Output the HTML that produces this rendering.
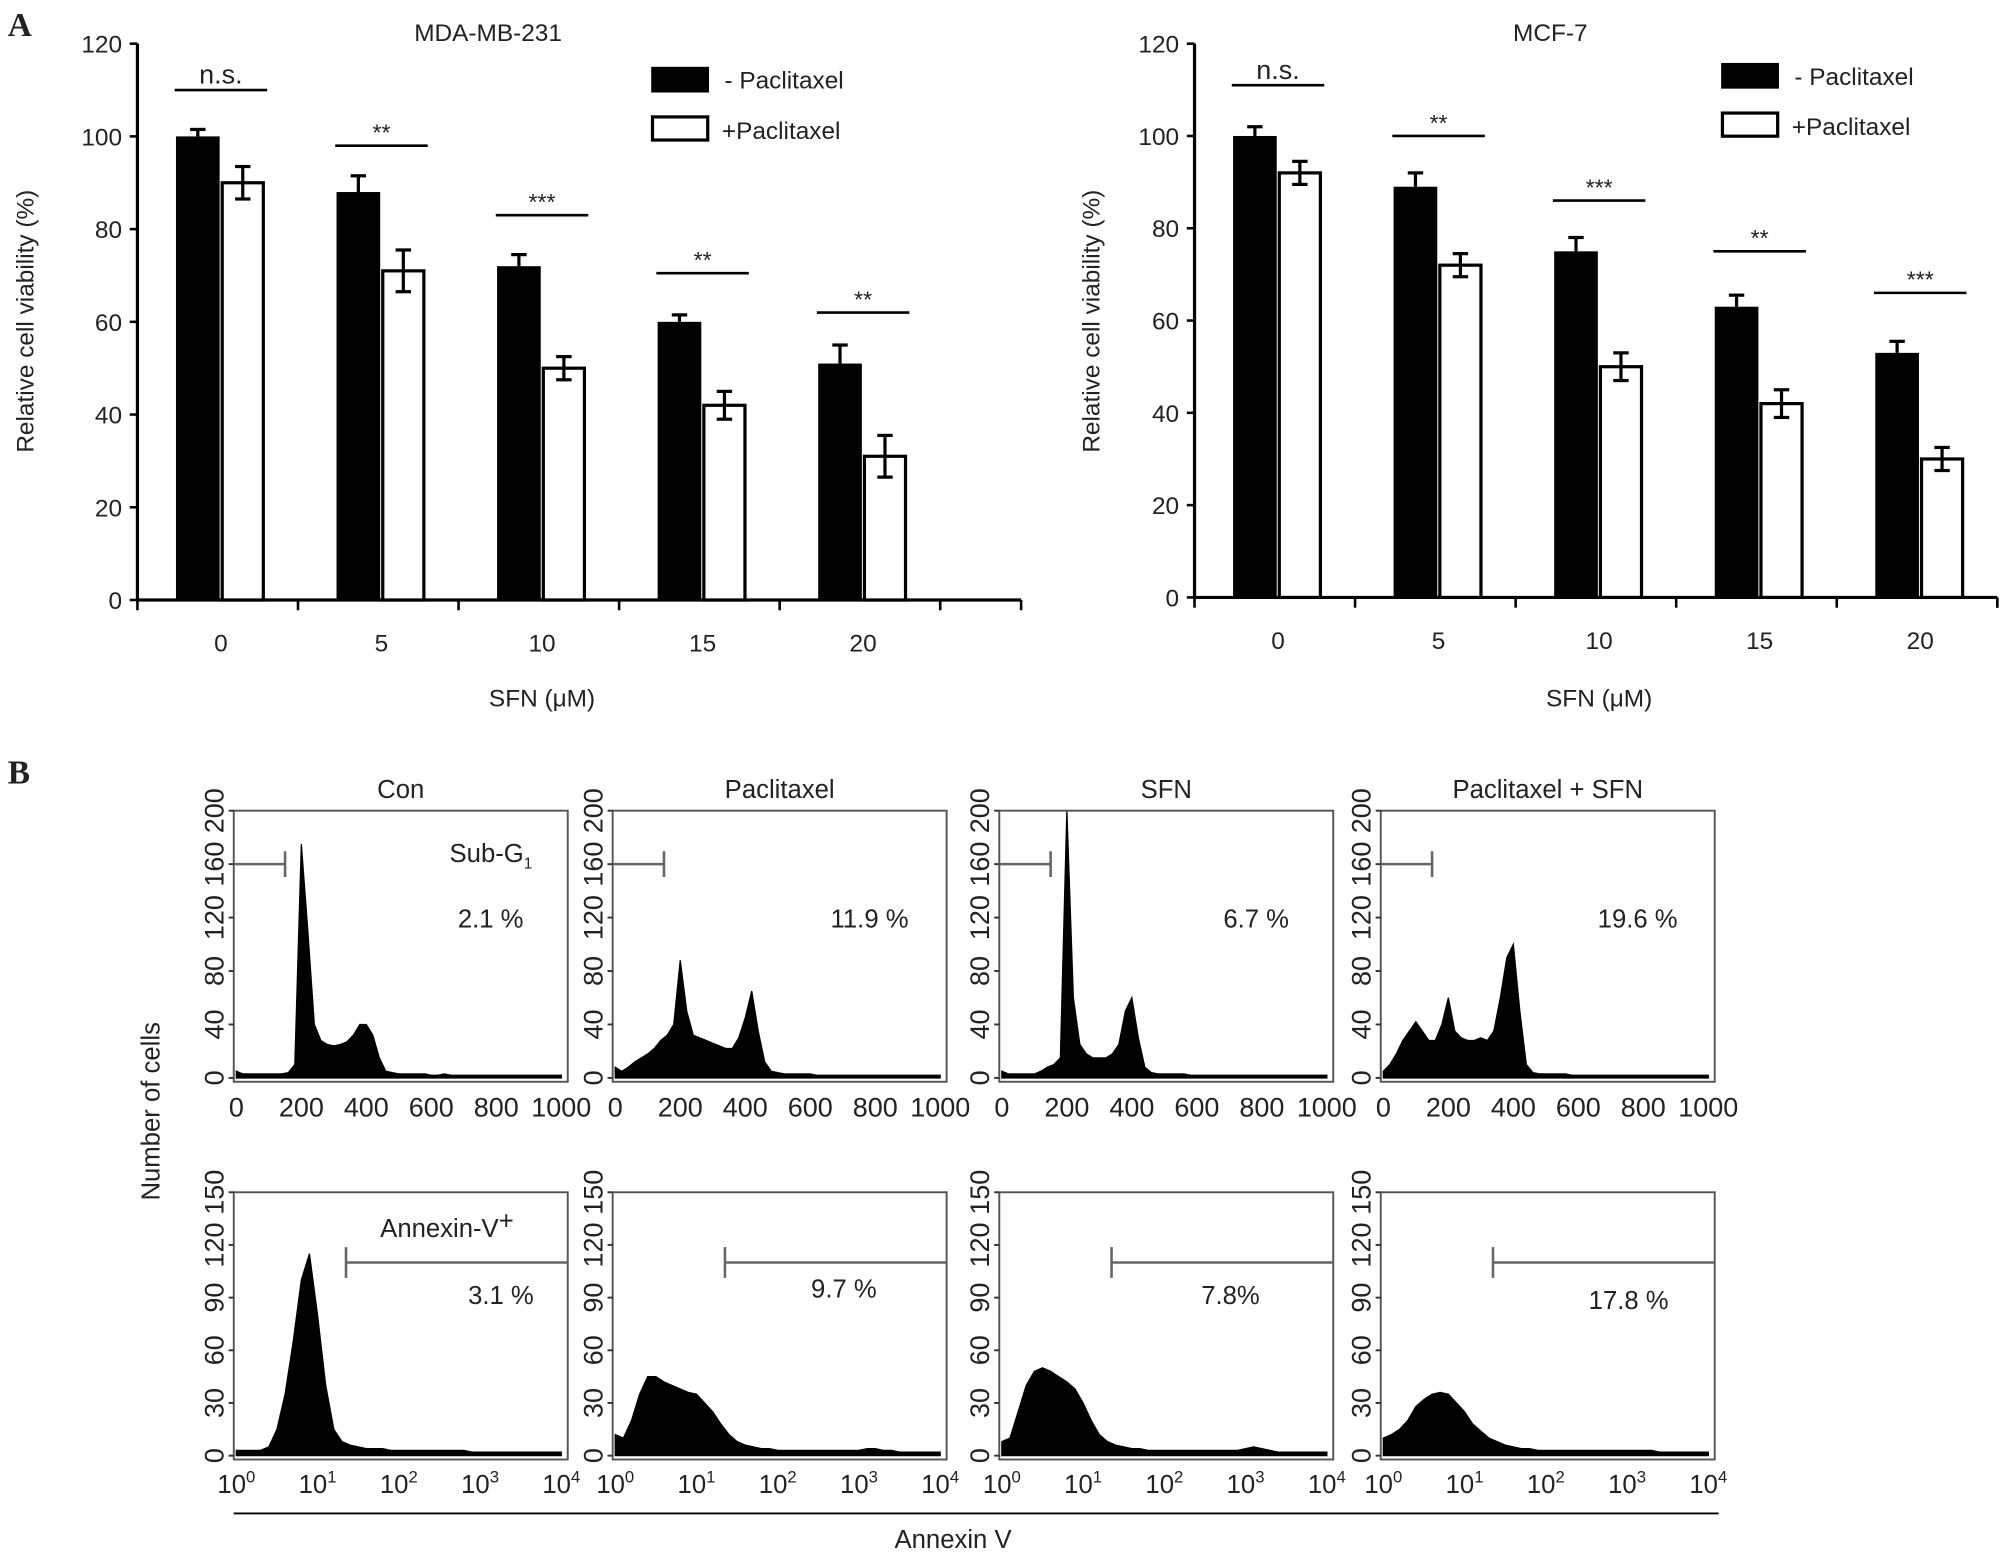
<!DOCTYPE html>
<html><head><meta charset="utf-8"><style>
html,body{margin:0;padding:0;background:#fff}
svg{display:block}
text{font-family:"Liberation Sans",sans-serif;fill:#222}
</style></head><body>
<svg id="fig" width="2014" height="1561" viewBox="0 0 1568 1215" preserveAspectRatio="none">
<text x="6" y="28" style="font-family:'Liberation Serif',serif;font-weight:bold;font-size:26px">A</text>
<text x="6" y="610" style="font-family:'Liberation Serif',serif;font-weight:bold;font-size:26px">B</text>
<g id="charts"></g>
</svg>
<script>
const categories = ["0","5","10","15","20"];
const mdaMinus = [100,88,72,60,51];
const mdaMinusErr = [1.5,3.5,2.5,1.5,4];
const mdaPlus = [90,71,50,42,31];
const mdaPlusErr = [3.5,4.5,2.5,3,4.5];
const mdaSig = ["n.s.","**","***","**","**"];
const mdaSigLevel = [110,98,83,70.5,62];
const mcfMinus = [100,89,75,63,53];
const mcfMinusErr = [2,3,3,2.5,2.5];
const mcfPlus = [92,72,50,42,30];
const mcfPlusErr = [2.5,2.5,3,3,2.5];
const mcfSig = ["n.s.","**","***","**","***"];
const mcfSigLevel = [111,100,86,75,66];
const yTicksA = [0,20,40,60,80,100,120];

const cycleTitles = ["Con","Paclitaxel","SFN","Paclitaxel + SFN"];
const cycleCon = [5,3,3,3,3,3,3,3,4,10,175,110,40,28,25,24,25,27,32,40,40,32,15,5,4,3,3,3,3,3,2,2,3,2,2,2,2,2,2,2,2,2,2,2,2,2,2,2,2,2,2];
const cyclePac = [8,5,8,12,15,18,22,28,32,40,88,50,32,30,28,26,24,22,22,30,45,65,35,12,5,4,3,3,3,3,3,2,2,2,2,2,2,2,2,2,2,2,2,2,2,2,2,2,2,2,2];
const cycleSfn = [5,3,3,3,3,3,5,8,10,15,200,60,25,18,15,15,15,18,25,50,60,30,8,4,3,3,3,3,3,2,2,2,2,2,2,2,2,2,2,2,2,2,2,2,2,2,2,2,2,2,2];
const cycleBoth = [5,10,18,28,35,42,35,28,28,40,60,35,30,28,28,30,28,35,60,90,100,50,10,4,3,3,3,3,3,2,2,2,2,2,2,2,2,2,2,2,2,2,2,2,2,2,2,2,2,2,2];
const cycleTicks = [0,200,400,600,800,1000];
const cycleYTicks = [0,40,80,120,160,200];
const subG1 = ["2.1 %","11.9 %","6.7 %","19.6 %"];

const annCon = [3,3,3,3,5,15,35,65,100,115,80,40,15,8,6,5,4,4,4,3,3,3,3,3,3,3,3,3,3,2,2,2,2,2,2,2,2,2,2,2,2];
const annPac = [12,10,20,35,45,45,42,40,38,36,35,30,25,18,12,8,6,5,4,4,3,3,3,3,3,3,3,3,3,3,3,4,4,3,3,2,2,2,2,2,2];
const annSfn = [8,10,25,40,48,50,48,45,42,38,30,20,12,8,6,5,4,4,3,3,3,3,3,3,3,3,3,3,3,3,4,5,4,3,2,2,2,2,2,2,2];
const annBoth = [10,12,15,20,28,32,35,36,35,30,25,18,14,10,8,6,5,4,4,3,3,3,3,3,3,3,3,3,3,3,3,3,3,3,2,2,2,2,2,2,2];
const annYTicks = [0,30,60,90,120,150];
const annXTicks = [0,1,2,3,4];
const annexinPct = ["3.1 %","9.7 %","7.8%","17.8 %"];

const NS="http://www.w3.org/2000/svg";
const root=document.getElementById('charts');
function mk(tag,attrs,parent,txt){const e=document.createElementNS(NS,tag);for(const k in attrs)e.setAttribute(k,attrs[k]);if(txt!==undefined)e.textContent=txt;(parent||root).appendChild(e);return e;}

function barChart(o){
  const g=mk('g',{});
  
  
  const y=v=>o.y0-(o.y0-o.y120)*v/120;
  const cx=i=>o.c0+i*o.step;
  mk('line',{x1:o.ax,y1:o.y120,x2:o.ax,y2:o.y0,stroke:'#000','stroke-width':2.5},g);
  mk('line',{x1:o.ax,y1:o.y0,x2:o.axEnd,y2:o.y0,stroke:'#000','stroke-width':2.5},g);
  yTicksA.forEach(t=>{
    mk('line',{x1:o.ax-6,y1:y(t),x2:o.ax,y2:y(t),stroke:'#000','stroke-width':2},g);
    const tx=mk('text',{x:o.ax-12,y:y(t)+7,'text-anchor':'end','font-size':19},g,String(t));
    
    
  });
  for(let i=0;i<=categories.length;i++){
    const xx=o.ax+i*o.step;
    mk('line',{x1:xx,y1:o.y0,x2:xx,y2:o.y0+8,stroke:'#000','stroke-width':2},g);
  }
  mk('line',{x1:o.axEnd,y1:o.y0,x2:o.axEnd,y2:o.y0+8,stroke:'#000','stroke-width':2},g);
  categories.forEach((c,i)=>{
    const tx=mk('text',{x:cx(i),y:o.y0+40,'text-anchor':'middle','font-size':19},g,c);
    
    
    const bw=34;
    const b1=mk('rect',{x:cx(i)-bw-1,y:y(o.minus[i]),width:bw,height:o.y0-y(o.minus[i]),fill:'#000'},g);
    
    
    const b2=mk('rect',{x:cx(i)+1,y:y(o.plus[i]),width:bw-2,height:o.y0-y(o.plus[i]),fill:'#fff',stroke:'#000','stroke-width':2.5},g);
    
    
    [[cx(i)-bw/2-1,o.minus[i],o.minusErr[i],true],[cx(i)+bw/2,o.plus[i],o.plusErr[i],false]].forEach(([ex,v,e,top])=>{
      const lo=top?v:v-e;
      mk('line',{x1:ex,y1:y(v+e),x2:ex,y2:y(lo),stroke:'#000','stroke-width':2.5},g);
      mk('line',{x1:ex-6,y1:y(v+e),x2:ex+6,y2:y(v+e),stroke:'#000','stroke-width':2.5},g);
      if(!top)mk('line',{x1:ex-6,y1:y(v-e),x2:ex+6,y2:y(v-e),stroke:'#000','stroke-width':2.5},g);
    });
    const ly=y(o.sigLevel[i]);
    mk('line',{x1:cx(i)-36,y1:ly,x2:cx(i)+36,y2:ly,stroke:'#000','stroke-width':2},g);
    const st=mk('text',{x:cx(i),y:o.sig[i]==='n.s.'?ly-5:ly-4,'text-anchor':'middle','font-size':o.sig[i]==='n.s.'?21:18},g,o.sig[i]);
    
    
  });
  const t=mk('text',{x:o.titleX,y:32,'text-anchor':'middle','font-size':19},g,o.title);
  
  
  const yl=mk('text',{x:0,y:0,'text-anchor':'middle','font-size':19,transform:`translate(${o.ylx},250) rotate(-90)`},g,'Relative cell viability (%)');
  
  
  const xl=mk('text',{x:o.c0+2*o.step,y:550,'text-anchor':'middle','font-size':19},g,'SFN (\u03bcM)');
  
  
  const l1=mk('rect',{x:o.legX,y:o.legY,width:45,height:20,fill:'#000'},g);
  
  
  const l2=mk('rect',{x:o.legX+1,y:o.legY+39,width:43,height:18,fill:'#fff',stroke:'#000','stroke-width':2.5},g);
  
  
  const lt1=mk('text',{x:o.legX+57,y:o.legY+17,'font-size':19},g,'- Paclitaxel');
  
  
  const lt2=mk('text',{x:o.legX+55,y:o.legY+56,'font-size':19},g,'+Paclitaxel');
  
  
}
barChart({name:'chart-mda-mb-231',title:'MDA-MB-231',titleX:380,ax:107,axEnd:795,y0:467,y120:34,c0:172,step:125,minus:mdaMinus,minusErr:mdaMinusErr,plus:mdaPlus,plusErr:mdaPlusErr,sig:mdaSig,sigLevel:mdaSigLevel,ylx:26,legX:507,legY:52});
barChart({name:'chart-mcf-7',title:'MCF-7',titleX:1207,ax:930,axEnd:1555,y0:465,y120:34,c0:995,step:125,minus:mcfMinus,minusErr:mcfMinusErr,plus:mcfPlus,plusErr:mcfPlusErr,sig:mcfSig,sigLevel:mcfSigLevel,ylx:856,legX:1340,legY:49});

const panelX=[182,477,778,1075];
const panelW=260;
const cycleData=[cycleCon,cyclePac,cycleSfn,cycleBoth];
const annData=[annCon,annPac,annSfn,annBoth];

function histPanel(px,data,kind,idx){
  const g=mk('g',{});
  
  
  const top=kind==='cycle'?631:928, bot=kind==='cycle'?839:1133;
  const ymax=kind==='cycle'?200:150;
  const x0=px+2, x1=px+panelW-5;
  const xs=kind==='cycle'?(v=>x0+(x1-x0)*v/1000):(v=>x0+(x1-x0)*v/4);
  const ys=v=>bot-(bot-top)*Math.min(v,ymax)/ymax;
  let d=`M${xs(0)},${bot}`;
  data.forEach((v,i)=>{const xv=kind==='cycle'?i*20:i*0.1;d+=` L${xs(xv)},${ys(v)}`;});
  d+=` L${xs(kind==='cycle'?(data.length-1)*20:(data.length-1)*0.1)},${bot} Z`;
  const p=mk('path',{d:d,fill:'#000',stroke:'#000','stroke-width':1},g);
  
  
  mk('rect',{x:px,y:top,width:panelW,height:bot-top+3,fill:'none',stroke:'#555','stroke-width':1.5},g);
  const yt=kind==='cycle'?cycleYTicks:annYTicks;
  yt.forEach(t=>{
    mk('line',{x1:px-4,y1:ys(t),x2:px,y2:ys(t),stroke:'#333','stroke-width':1.5},g);
    const tx=mk('text',{x:0,y:0,'text-anchor':'middle','font-size':21,transform:`translate(${px-8},${ys(t)}) rotate(-90)`},g,String(t));
    
    
  });
  if(kind==='cycle'){
    cycleTicks.forEach(t=>{
      const tx=mk('text',{x:xs(t),y:869,'text-anchor':'middle','font-size':21},g,String(t));
      
      
    });
    const gy=ys(160);
    mk('line',{x1:px,y1:gy,x2:xs(150),y2:gy,stroke:'#666','stroke-width':2},g);
    mk('line',{x1:xs(150),y1:gy-10,x2:xs(150),y2:gy+10,stroke:'#666','stroke-width':2},g);
    const pt=mk('text',{x:px+200,y:722,'text-anchor':'middle','font-size':20},g,subG1[idx]);
    
    
    const tt=mk('text',{x:px+panelW/2,y:621,'text-anchor':'middle','font-size':20},g,cycleTitles[idx]);
    
    
  } else {
    annXTicks.forEach(t=>{
      const tx=mk('text',{x:xs(t),y:1162,'text-anchor':'middle','font-size':20},g);
      
      
      tx.textContent='10';
      mk('tspan',{dy:-8,'font-size':13},tx,String(t));
    });
    const gy=ys(110), gx=xs(1.35);
    mk('line',{x1:gx,y1:gy,x2:px+panelW,y2:gy,stroke:'#666','stroke-width':2},g);
    mk('line',{x1:gx,y1:gy-12,x2:gx,y2:gy+12,stroke:'#666','stroke-width':2},g);
    const pt=mk('text',{x:px+[208,180,180,193][idx],y:[1015,1010,1015,1019][idx],'text-anchor':'middle','font-size':20},g,annexinPct[idx]);
    
    
  }
}
for(let i=0;i<4;i++){histPanel(panelX[i],cycleData[i],'cycle',i);histPanel(panelX[i],annData[i],'ann',i);}
const sg=mk('text',{x:350,y:671,'font-size':20});


sg.textContent='Sub-G';
mk('tspan',{dy:5,'font-size':12},sg,'1');
const av=mk('text',{x:296,y:963,'font-size':20});


av.textContent='Annexin-V';
mk('tspan',{dy:-6,'font-size':20},av,'+');
const nc=mk('text',{x:0,y:0,'text-anchor':'middle','font-size':20,transform:'translate(124,865) rotate(-90)'},root,'Number of cells');


mk('line',{x1:182,y1:1178,x2:1338,y2:1178,stroke:'#000','stroke-width':1.5});
const an=mk('text',{x:742,y:1205,'text-anchor':'middle','font-size':20},root,'Annexin V');


</script>
</body></html>
